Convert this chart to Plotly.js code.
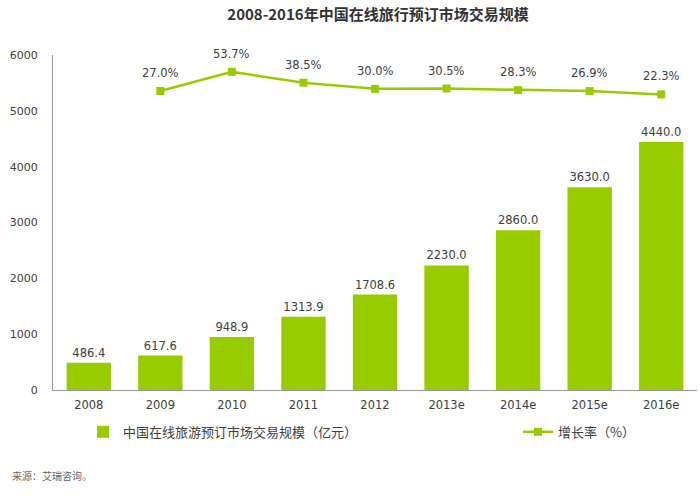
<!DOCTYPE html>
<html>
<head>
<meta charset="utf-8">
<script src="https://cdn.plot.ly/plotly-3.0.1.min.js"></script>
<style>html,body{margin:0;padding:0;background:#fff;}#chart{width:700px;height:496px;}</style>
</head>
<body>
<div id="chart"></div>
<script>
var categories = ['2008','2009','2010','2011','2012','2013e','2014e','2015e','2016e'];
var marketSize = [486.4, 617.6, 948.9, 1313.9, 1708.6, 2230.0, 2860.0, 3630.0, 4440.0];
var growthCats = ['2009','2010','2011','2012','2013e','2014e','2015e','2016e'];
var growthRate = [27.0, 53.7, 38.5, 30.0, 30.5, 28.3, 26.9, 22.3];
var barName = '中国在线旅游预订市场交易规模（亿元）';
var lineName = '增长率（%）';
var titleText = '2008-2016年中国在线旅行预订市场交易规模';
var sourceText = '来源：艾瑞咨询。';

var green = '#99cc00';
var textColor = '#404040';
var baseFont = 'DejaVu Sans, Noto Sans CJK SC, sans-serif';
var cjkFont = 'Noto Sans CJK SC, sans-serif';

var traces = [
  {
    type: 'bar', x: categories, y: marketSize, name: barName, legend: 'legend',
    marker: {color: green},
    text: marketSize.map(function(v){return v.toFixed(1);}),
    textposition: 'outside', cliponaxis: false,
    textfont: {family: baseFont, size: 11.5, color: textColor},
    hoverinfo: 'none'
  },
  {
    type: 'scatter', mode: 'lines+markers', x: growthCats, y: growthRate, yaxis: 'y2',
    name: lineName, legend: 'legend2',
    line: {color: green, width: 2.5},
    marker: {color: green, symbol: 'square', size: 8},
    hoverinfo: 'none'
  }
];

var annotations = growthCats.map(function(c, i){
  return {x: categories.indexOf(c), y: growthRate[i], xref: 'x', yref: 'y2', text: growthRate[i].toFixed(1) + '%',
    showarrow: false, yshift: 18, font: {family: baseFont, size: 11.5, color: textColor}};
});
annotations.push({xref: 'paper', yref: 'paper', x: -0.0668, y: -0.254, xanchor: 'left', yanchor: 'middle',
  text: sourceText, showarrow: false, font: {family: cjkFont, size: 10, color: '#666666'}});

var legendFont = {family: cjkFont, size: 13, color: textColor};

var layout = {
  width: 700, height: 496,
  margin: {l: 53, r: 3, t: 55, b: 106},
  paper_bgcolor: '#ffffff', plot_bgcolor: '#ffffff',
  font: {family: baseFont, color: textColor},
  title: {text: titleText, xref: 'container', yref: 'container', x: 0.54, y: 0.97, xanchor: 'center', yanchor: 'middle',
    font: {family: cjkFont, size: 15, color: '#333333', weight: 'bold'}},
  bargap: 0.38,
  xaxis: {type: 'category', range: [-0.5, 8.5], showline: true, linecolor: '#999999', linewidth: 1,
    ticks: '', showgrid: false, zeroline: false, ticklabelstandoff: 4,
    tickfont: {family: baseFont, size: 11.5, color: textColor}},
  yaxis: {range: [0, 6000], tickvals: [0,1000,2000,3000,4000,5000,6000], showline: true, linecolor: '#999999',
    linewidth: 1, ticks: '', showgrid: false, zeroline: false, ticklabelstandoff: 12,
    tickfont: {family: baseFont, size: 11, color: textColor}},
  yaxis2: {overlaying: 'y', side: 'right', range: [-388, 77], visible: false, showgrid: false, zeroline: false},
  showlegend: true,
  legend: {orientation: 'h', x: 0.0466, y: -0.125, xanchor: 'left', yanchor: 'middle',
    itemwidth: 30, font: legendFont, bgcolor: 'rgba(0,0,0,0)'},
  legend2: {orientation: 'h', x: 0.722, y: -0.125, xanchor: 'left', yanchor: 'middle',
    itemwidth: 30, font: legendFont, bgcolor: 'rgba(0,0,0,0)'},
  annotations: annotations
};

Plotly.newPlot('chart', traces, layout, {displayModeBar: false, staticPlot: true});
</script>
</body>
</html>
